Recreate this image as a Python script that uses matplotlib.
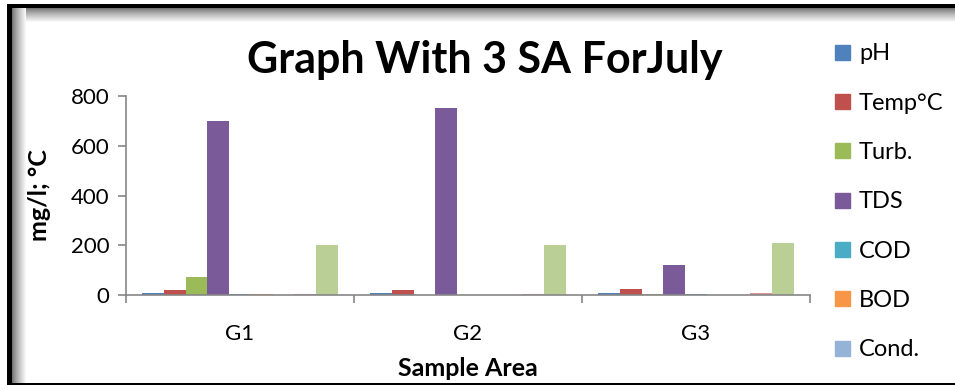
import matplotlib
matplotlib.use("Agg")
import matplotlib.pyplot as plt
import numpy as np
from matplotlib.patches import Patch, Rectangle

plt.rcParams['font.family'] = ['Lato', 'DejaVu Sans']

groups = ['G1', 'G2', 'G3']
series = ['pH', 'Temp°C', 'Turb.', 'TDS', 'COD', 'BOD', 'Cond.', 'Cl', 'TH']
values = {
    'pH':     [7, 7, 7],
    'Temp°C': [20, 20, 24],
    'Turb.':  [71, 2, 3],
    'TDS':    [700, 750, 120],
    'COD':    [5, 0, 4],
    'BOD':    [3, 0, 0],
    'Cond.':  [0, 0, 0],
    'Cl':     [5, 4, 9],
    'TH':     [200, 200, 210],
}
colors = ['#4F81BD', '#C0504D', '#9BBB59', '#7A5A98', '#4BACC6', '#F79646',
          '#95B3D7', '#D99694', '#BACF96']
legend_count = 7

W, H = 955, 385
fig = plt.figure(figsize=(W / 100, H / 100), dpi=100)


def px_rect(x0, y0, w, h, color):
    # rectangle in pixel units measured from the top-left corner
    fig.patches.append(Rectangle((x0 / W, 1 - (y0 + h) / H), w / W, h / H,
                                 transform=fig.transFigure, color=color,
                                 lw=0, zorder=-5))


# soft inner shadow along the top and left of the frame
steps = 14
for k in range(steps):
    g = 0.45 + 0.55 * (k / steps) ** 0.8
    px_rect(12 + k, 8, 1, H - 10, str(g))
    px_rect(12 + k, 8 + k, W - 12 - k, 1, str(g))
# black frame lines
px_rect(7, 4, W - 7, 4, 'black')
px_rect(7, 4, 5, H - 4, 'black')
px_rect(7, H - 2, W - 7, 2, 'black')

ax = fig.add_axes([126 / W, 1 - 295 / H, (810 - 126) / W, (295 - 96) / H])
ax.patch.set_alpha(0)
n = len(series)
bar_w = 1 / (n + 1.5)
x = np.arange(len(groups))
for i, (name, c) in enumerate(zip(series, colors)):
    offs = (i - (n - 1) / 2) * bar_w
    ax.bar(x + 0.5 + offs, values[name], width=bar_w, color=c, label=name)

ax.set_xlim(0, len(groups))
ax.set_ylim(0, 800)
ax.set_yticks(range(0, 801, 200))
ax.set_xticks(np.arange(len(groups) + 1))
ax.set_xticklabels([])
ax.set_xticks(x + 0.5, minor=True)
ax.set_xticklabels(groups, minor=True)
ax.tick_params(axis='x', which='minor', length=0, pad=21, labelsize=16)
ax.tick_params(axis='x', which='major', length=6, color='#868686', width=1.2)
ax.tick_params(axis='y', length=6, color='#868686', width=1.2, labelsize=16, pad=6)
for s in ['top', 'right']:
    ax.spines[s].set_visible(False)
for s in ['left', 'bottom']:
    ax.spines[s].set_color('#868686')
    ax.spines[s].set_linewidth(1.2)

ax.set_ylabel('mg/l; °C', fontsize=18, fontweight='bold', labelpad=14)
ax.set_xlabel('Sample Area', fontsize=18, fontweight='bold', labelpad=9)
fig.text(485 / W, 1 - 60 / H, 'Graph With 3 SA ForJuly', fontsize=31,
         fontweight='bold', ha='center', va='center')

handles = [Patch(color=c) for c in colors[:legend_count]]
fig.legend(handles, series[:legend_count], loc='upper left',
           bbox_to_anchor=(826 / W, 1 - 34 / H), frameon=False, fontsize=17,
           handlelength=0.6, handleheight=0.6, handletextpad=0.4,
           labelspacing=1.2, borderaxespad=0)

fig.savefig('out.png', dpi=100)
